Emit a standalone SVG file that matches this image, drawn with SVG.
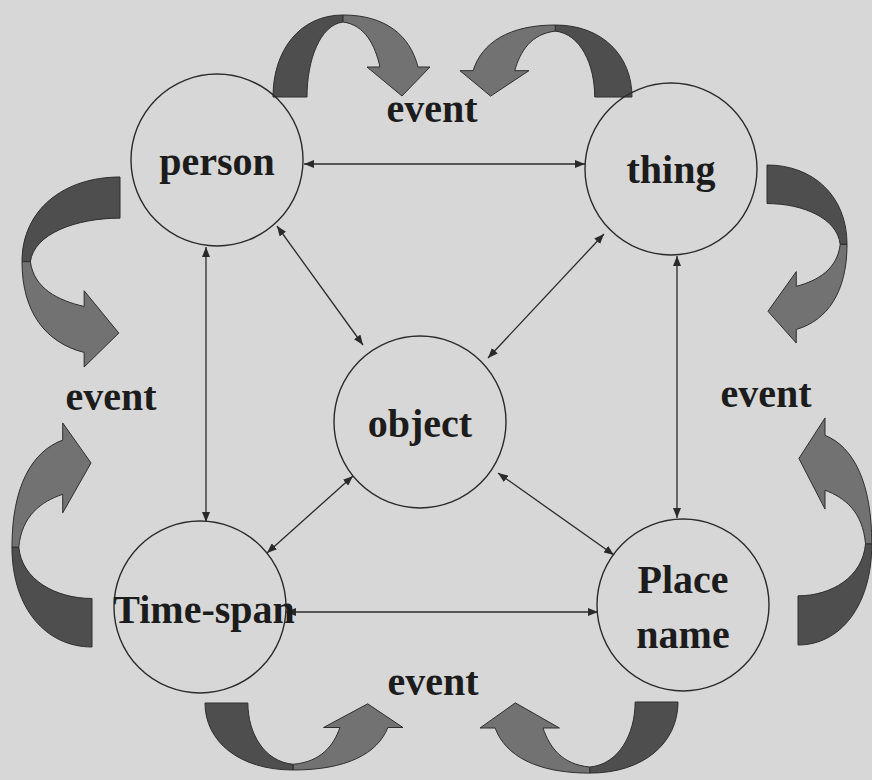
<svg xmlns="http://www.w3.org/2000/svg" xmlns:xlink="http://www.w3.org/1999/xlink" width="872" height="780" viewBox="0 0 872 780">
<style>
.bg{fill:#d7d7d7}
.node{fill:none;stroke:#2a2a2a;stroke-width:1.4}
.lbl{font-family:"Liberation Serif","Times New Roman",serif;font-weight:bold;font-size:40px;fill:#1c1c1c;text-anchor:middle}
.conn{stroke:#2a2a2a;stroke-width:1.3;fill:none;marker-start:url(#ah);marker-end:url(#ah)}
.dark{fill:#4e4e4e;stroke:#2e2e2e;stroke-width:1;vector-effect:non-scaling-stroke}
.light{fill:#727272;stroke:#2e2e2e;stroke-width:1;vector-effect:non-scaling-stroke}
</style>
<defs>
<marker id="ah" viewBox="0 0 10 8" refX="10" refY="4" markerWidth="10" markerHeight="8" markerUnits="userSpaceOnUse" orient="auto-start-reverse">
<path d="M0,0 L10,4 L0,8 Z" fill="#2a2a2a"/>
</marker>
<g id="carrow">
<path class="dark" d="M0,0 C0,-47 27,-82 70,-82 L70,-75 C47,-72 34,-37 34,0 Z"/>
<path class="light" d="M70,-82 C112,-82 137,-62 145,-30 L157,-30 L129,-1 L94,-30 L107,-30 C102,-52 92,-72 70,-75 Z"/>
</g>
</defs>
<rect class="bg" x="0" y="0" width="872" height="780"/>
<g id="curved-arrows">
<use xlink:href="#carrow" href="#carrow" transform="translate(273,97)"/>
<use xlink:href="#carrow" href="#carrow" transform="matrix(-1.096,0,0,0.878,632,97)"/>
<use xlink:href="#carrow" href="#carrow" transform="matrix(0,1.21,1.195,0,120,177)"/>
<use xlink:href="#carrow" href="#carrow" transform="matrix(0,1.134,-0.976,0,767,165)"/>
<use xlink:href="#carrow" href="#carrow" transform="matrix(0,-1.427,0.976,0,92,647)"/>
<use xlink:href="#carrow" href="#carrow" transform="matrix(0,-1.446,-0.9,0,798,645)"/>
<use xlink:href="#carrow" href="#carrow" transform="matrix(1.261,0,0,-0.817,205,703)"/>
<use xlink:href="#carrow" href="#carrow" transform="matrix(-1.261,0,0,-0.867,678,702)"/>
</g>
<g id="connectors">
<line class="conn" x1="304" y1="164" x2="585" y2="164"/>
<line class="conn" x1="206" y1="247" x2="206" y2="522"/>
<line class="conn" x1="677" y1="256" x2="677" y2="518"/>
<line class="conn" x1="286" y1="612" x2="598" y2="612"/>
<line class="conn" x1="277" y1="226" x2="363" y2="345"/>
<line class="conn" x1="604" y1="234" x2="488" y2="358"/>
<line class="conn" x1="353" y1="476" x2="267" y2="553"/>
<line class="conn" x1="498" y1="473" x2="614" y2="555"/>
</g>
<g id="person"><circle class="node" cx="217" cy="160" r="86"/><text class="lbl" x="217" y="175">person</text></g>
<g id="thing"><circle class="node" cx="671" cy="169" r="86"/><text class="lbl" x="671" y="183">thing</text></g>
<g id="object"><circle class="node" cx="420" cy="422" r="86"/><text class="lbl" x="420" y="437">object</text></g>
<g id="time-span"><circle class="node" cx="200" cy="607" r="86"/><text class="lbl" x="204" y="623">Time-span</text></g>
<g id="place-name"><circle class="node" cx="683" cy="605" r="86"/><text class="lbl" x="683" y="593">Place</text><text class="lbl" x="683" y="648">name</text></g>
<g id="event-labels">
<text class="lbl" x="432" y="122">event</text>
<text class="lbl" x="111" y="410">event</text>
<text class="lbl" x="766" y="407">event</text>
<text class="lbl" x="433" y="695">event</text>
</g>
</svg>
